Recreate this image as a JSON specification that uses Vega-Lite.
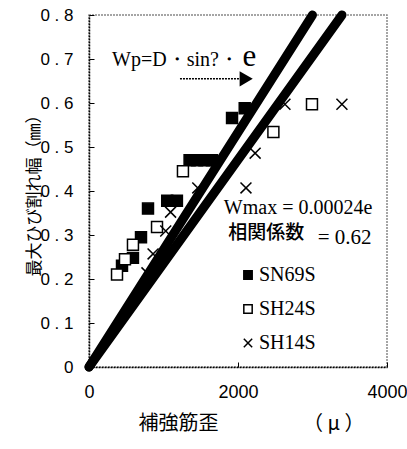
{
  "$schema": "https://vega.github.io/schema/vega-lite/v6.json",
  "width": 298,
  "height": 352,
  "autosize": {"type": "none"},
  "padding": {"left": 89, "top": 15, "right": 20, "bottom": 82},
  "background": "white",
  "config": {
    "view": {"stroke": "#888", "strokeDash": [2, 1], "strokeWidth": 1.5},
    "axis": {
      "labelFont": "Liberation Sans",
      "labelFontSize": 17,
      "labelColor": "black",
      "labelFlush": false,
      "titleFont": "Noto Sans CJK JP",
      "titleFontSize": 17,
      "titleFontWeight": "normal",
      "titleColor": "black",
      "domainColor": "black",
      "domainDash": [2, 1],
      "domainWidth": 1.5,
      "tickColor": "black",
      "grid": false
    }
  },
  "datasets": {
    "pts": [
      {"series": "SN69S", "strain": 443, "width": 0.23},
      {"series": "SN69S", "strain": 590, "width": 0.248},
      {"series": "SN69S", "strain": 698, "width": 0.295},
      {"series": "SN69S", "strain": 792, "width": 0.36},
      {"series": "SN69S", "strain": 1050, "width": 0.378},
      {"series": "SN69S", "strain": 1180, "width": 0.378},
      {"series": "SN69S", "strain": 1350, "width": 0.47},
      {"series": "SN69S", "strain": 1450, "width": 0.47},
      {"series": "SN69S", "strain": 1550, "width": 0.47},
      {"series": "SN69S", "strain": 1650, "width": 0.47},
      {"series": "SN69S", "strain": 1920, "width": 0.566},
      {"series": "SN69S", "strain": 2090, "width": 0.588},
      {"series": "SH24S", "strain": 376, "width": 0.21},
      {"series": "SH24S", "strain": 483, "width": 0.245},
      {"series": "SH24S", "strain": 590, "width": 0.278},
      {"series": "SH24S", "strain": 913, "width": 0.318},
      {"series": "SH24S", "strain": 1261, "width": 0.445},
      {"series": "SH24S", "strain": 2475, "width": 0.534},
      {"series": "SH24S", "strain": 2993, "width": 0.597},
      {"series": "SH14S", "strain": 778, "width": 0.214},
      {"series": "SH14S", "strain": 860, "width": 0.257},
      {"series": "SH14S", "strain": 1030, "width": 0.309},
      {"series": "SH14S", "strain": 1095, "width": 0.352},
      {"series": "SH14S", "strain": 1460, "width": 0.407},
      {"series": "SH14S", "strain": 2107, "width": 0.407},
      {"series": "SH14S", "strain": 2230, "width": 0.486},
      {"series": "SH14S", "strain": 2630, "width": 0.597},
      {"series": "SH14S", "strain": 3395, "width": 0.597}
    ],
    "fits": [
      {"fit": "A", "strain": 0, "width": 0},
      {"fit": "A", "strain": 3000, "width": 0.8},
      {"fit": "B", "strain": 0, "width": 0},
      {"fit": "B", "strain": 3396, "width": 0.8}
    ],
    "arrow": [
      {"strain": 1221, "strain2": 2050, "head": 2110, "width": 0.655}
    ],
    "serifNotes": [
      {"label": "Wp=D・sin?・", "strain": 310, "width": 0.684, "size": 20},
      {"label": "e", "strain": 2060, "width": 0.684, "size": 31},
      {"label": "Wmax = 0.00024e", "strain": 1810, "width": 0.347, "size": 20},
      {"label": "= 0.62", "strain": 3070, "width": 0.279, "size": 21}
    ],
    "sansNotes": [
      {"label": "相関係数", "strain": 1870, "width": 0.29, "size": 19}
    ]
  },
  "layer": [
    {
      "data": {"name": "fits"},
      "mark": {"type": "line", "color": "black", "strokeWidth": 9, "strokeCap": "round"},
      "encoding": {
        "x": {"field": "strain", "type": "quantitative", "scale": {"domain": [0, 4000]},
          "axis": {"values": [0, 2000, 4000], "format": "d", "tickSize": -5, "labelPadding": 21, "labelFontSize": 18,
            "title": "補強筋歪　　　　  （ μ ）", "titleFontSize": 20, "titlePadding": 12, "titleAlign": "left", "titleX": 49}},
        "y": {"field": "width", "type": "quantitative", "scale": {"domain": [0, 0.8]},
          "axis": {"values": [0, 0.1, 0.2, 0.3, 0.4, 0.5, 0.6, 0.7, 0.8], "tickSize": -5, "labelPadding": 21,
            "labelExpr": "datum.value == 0 ? '0' : replace(format(datum.value, '.1f'), '.', ' . ')",
            "title": "最大ひび割れ幅（㎜）", "titlePadding": -4}},
        "detail": {"field": "fit"}
      }
    },
    {
      "data": {"name": "pts"},
      "mark": {"type": "point", "strokeWidth": 1.5, "opacity": 1},
      "encoding": {
        "x": {"field": "strain", "type": "quantitative"},
        "y": {"field": "width", "type": "quantitative"},
        "shape": {"field": "series", "type": "nominal",
          "scale": {"domain": ["SN69S", "SH24S", "SH14S"], "range": ["square", "square", "M-1,-1L1,1M1,-1L-1,1"]},
          "legend": {"orient": "none", "legendX": 149, "legendY": 250, "title": null,
            "labelFont": "Liberation Serif", "labelFontSize": 20, "labelColor": "black",
            "symbolSize": 70, "symbolStrokeWidth": 1.5,
            "rowPadding": 14, "labelOffset": 1}},
        "fill": {"field": "series", "type": "nominal",
          "scale": {"domain": ["SN69S", "SH24S", "SH14S"], "range": ["black", "white", "transparent"]},
          "legend": {"orient": "none", "legendX": 149, "legendY": 250, "title": null,
            "labelFont": "Liberation Serif", "labelFontSize": 20, "labelColor": "black",
            "symbolSize": 70, "symbolStrokeWidth": 1.5,
            "rowPadding": 14, "labelOffset": 1}},
        "stroke": {"field": "series", "type": "nominal",
          "scale": {"domain": ["SN69S", "SH24S", "SH14S"], "range": ["black", "black", "black"]},
          "legend": {"orient": "none", "legendX": 149, "legendY": 250, "title": null,
            "labelFont": "Liberation Serif", "labelFontSize": 20, "labelColor": "black",
            "symbolSize": 70, "symbolStrokeWidth": 1.5,
            "rowPadding": 14, "labelOffset": 1}},
        "size": {"value": 120}
      }
    },
    {
      "data": {"name": "arrow"},
      "mark": {"type": "rule", "color": "black", "strokeWidth": 1.5, "strokeDash": [2, 1]},
      "encoding": {
        "x": {"field": "strain", "type": "quantitative"},
        "x2": {"field": "strain2"},
        "y": {"field": "width", "type": "quantitative"}
      }
    },
    {
      "data": {"name": "arrow"},
      "mark": {"type": "point", "shape": "triangle-right", "filled": true, "color": "black", "size": 230, "opacity": 1},
      "encoding": {
        "x": {"field": "head", "type": "quantitative"},
        "y": {"field": "width", "type": "quantitative"}
      }
    },
    {
      "data": {"name": "serifNotes"},
      "mark": {"type": "text", "align": "left", "baseline": "alphabetic", "color": "black", "font": "Liberation Serif"},
      "encoding": {
        "x": {"field": "strain", "type": "quantitative"},
        "y": {"field": "width", "type": "quantitative"},
        "text": {"field": "label"},
        "size": {"field": "size", "type": "quantitative", "scale": null}
      }
    },
    {
      "data": {"name": "sansNotes"},
      "mark": {"type": "text", "align": "left", "baseline": "alphabetic", "color": "black", "font": "Noto Sans CJK JP", "fontWeight": 500},
      "encoding": {
        "x": {"field": "strain", "type": "quantitative"},
        "y": {"field": "width", "type": "quantitative"},
        "text": {"field": "label"},
        "size": {"field": "size", "type": "quantitative", "scale": null}
      }
    }
  ]
}
